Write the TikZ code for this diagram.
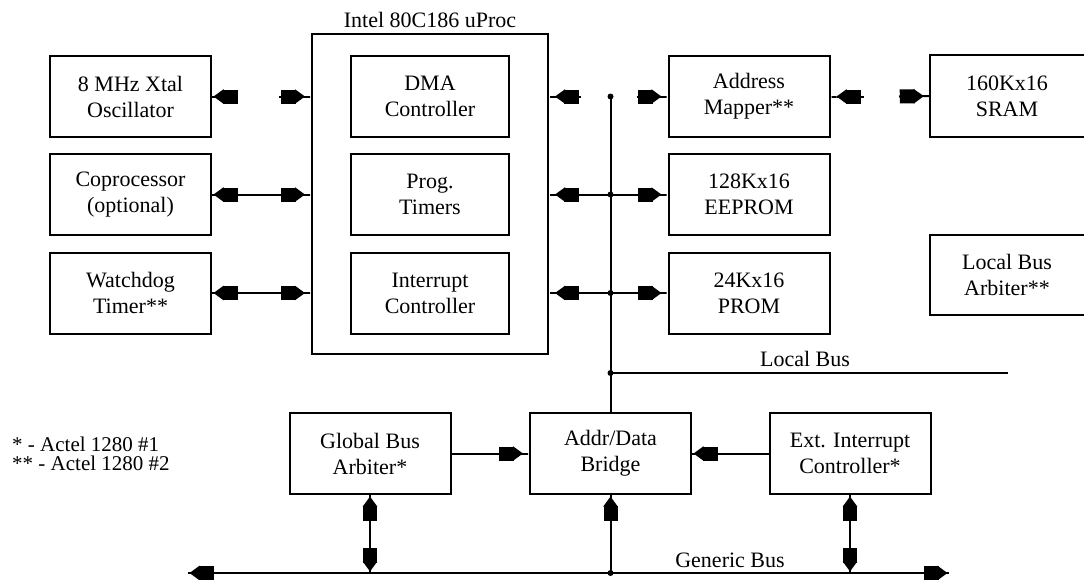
\documentclass[tikz,border=0pt]{standalone}
\usepackage{fontspec}
\setmainfont{Liberation Serif}
\usetikzlibrary{arrows.meta}
\newcommand\blkfont{\fontsize{22}{26}\selectfont}
\tikzset{
  % block arrow head with a short lead-in stub ahead of its point
  Hd/.tip={Rectangle[length=15pt,width=14pt,sep=-1pt] Triangle[length=10pt,width=14pt,sep=-1pt] Rectangle[length=7pt,width=2pt]},
  HdN/.tip={Rectangle[length=15pt,width=14pt,sep=-1pt] Triangle[length=10pt,width=14pt,sep=-1pt] Rectangle[length=2.5pt,width=2pt]},
  lbl/.style={font=\blkfont, inner sep=0pt},
  blk/.style={draw, line width=2pt, align=center, inner sep=0pt, font=\blkfont,
              minimum width=161pt, minimum height=81pt},
  openblk/.style={align=center, inner sep=0pt, font=\blkfont,
              minimum width=154pt, minimum height=81pt},
  conn/.style={line width=2pt},
  jdot/.style={fill, radius=3pt}
}
\begin{document}
\begin{tikzpicture}[x=1pt, y=-1pt]
\useasboundingbox (0,0) rectangle (1084,579);

% processor and its internal units
\node[draw, line width=2pt, minimum width=236pt, minimum height=320pt] (cpu) at (430,194) {};
\node[lbl] (cputitle) at (430,20) {Intel 80C186 uProc};
\node[blk, minimum width=158pt] (dma)  at (430,96.5)  {DMA\\Controller};
\node[blk, minimum width=158pt] (tmr)  at (430,194.5) {Prog.\\Timers};
\node[blk, minimum width=158pt] (intr) at (430,293)   {Interrupt\\Controller};

% left column
\node[blk] (osc) at (130.5,96.5)  {8 MHz Xtal\\Oscillator};
\node[blk] (cop) at (130.5,194.5) {Coprocessor\\(optional)};
\node[blk] (wdt) at (130.5,293)   {Watchdog\\Timer**};

% memory column
\node[blk] (amap) at (749,96.5)  {Address\\Mapper**};
\node[blk] (eep)  at (749,194.5) {128Kx16\\EEPROM};
\node[blk] (prom) at (749,293)   {24Kx16\\PROM};

% units running off the right edge
\node[openblk] (sram) at (1007,96)  {160Kx16\\SRAM};
\node[openblk, minimum height=80pt] (lba) at (1007,275) {Local Bus\\Arbiter**};
\draw[conn] (sram.north east) -- (sram.north west) -- (sram.south west) -- (sram.south east);
\draw[conn] (lba.north east) -- (lba.north west) -- (lba.south west) -- (lba.south east);

% bottom row
\node[blk] (gba)    at (370,453.5) {Global Bus\\Arbiter*};
\node[blk] (bridge) at (610.5,453.5) {Addr/Data\\Bridge};
\node[blk] (eic)    at (850,453.5) {Ext. Interrupt\\Controller*};

% legend
\node[lbl, anchor=west, align=left, font=\fontsize{21}{19}\selectfont] (legend) at (12,454)
  {* - Actel 1280 \#1\\** - Actel 1280 \#2};

% bus coordinates
\coordinate (bustop) at (610.5,96.5);
\coordinate (lbj)    at (610.5,373);
\coordinate (lbend)  at (1008,373);
\coordinate (gbl)    at (188,573);
\coordinate (gbr)    at (949,573);
\coordinate (oscgap) at (238,96.5);
\coordinate (cpugap) at (279,96.5);
\coordinate (cpurgap) at (581,96.5);
\coordinate (amapgap) at (637,96.5);
\coordinate (amrgap) at (864,96.5);
\coordinate (sramgap) at (899,96.5);

% left-side links
\draw[conn, {HdN}-] (osc.east) -- (oscgap);
\draw[conn, -{Hd}] (cpugap) -- (cpu.west |- osc.east);
\draw[conn, {HdN}-{Hd}] (cop.east) -- (cpu.west |- cop.east);
\draw[conn, {HdN}-{Hd}] (wdt.east) -- (cpu.west |- wdt.east);

% right-side links over the local bus
\draw[conn, {Hd}-] (cpu.east |- amap.west) -- (cpurgap);
\draw[conn, -{Hd}] (amapgap) -- (amap.west);
\draw[conn, {Hd}-{Hd}] (cpu.east |- eep.west) -- (eep.west);
\draw[conn, {Hd}-{Hd}] (cpu.east |- prom.west) -- (prom.west);
\draw[conn, {Hd}-] (amap.east) -- (amrgap);
\draw[conn, -{Hd}] (sramgap) -- (sram.west);

% local bus
\draw[conn] (bustop) -- (bridge.north);
\draw[conn] (lbj) -- (lbend);
\node[lbl] (lbtext) at (805,359) {Local Bus};
\fill[jdot] (bustop) circle;
\fill[jdot] (bustop |- eep.west) circle;
\fill[jdot] (bustop |- prom.west) circle;
\fill[jdot] (lbj) circle;

% bridge links
\draw[conn, -{Hd}] (gba.east) -- (bridge.west);
\draw[conn, -{HdN}] (eic.west) -- (bridge.east);

% generic bus
\draw[conn, {HdN}-{HdN}] (gbl) -- (gbr);
\node[lbl] (gbtext) at (730,560) {Generic Bus};
\draw[conn, {HdN}-{HdN}] (gba.south) -- (gba.south |- gbl);
\draw[conn, -{HdN}] (bridge.south |- gbl) -- (bridge.south);
\draw[conn, {HdN}-{HdN}] (eic.south) -- (eic.south |- gbl);
\fill[jdot] (bridge.south |- gbl) circle;
\end{tikzpicture}
\end{document}
